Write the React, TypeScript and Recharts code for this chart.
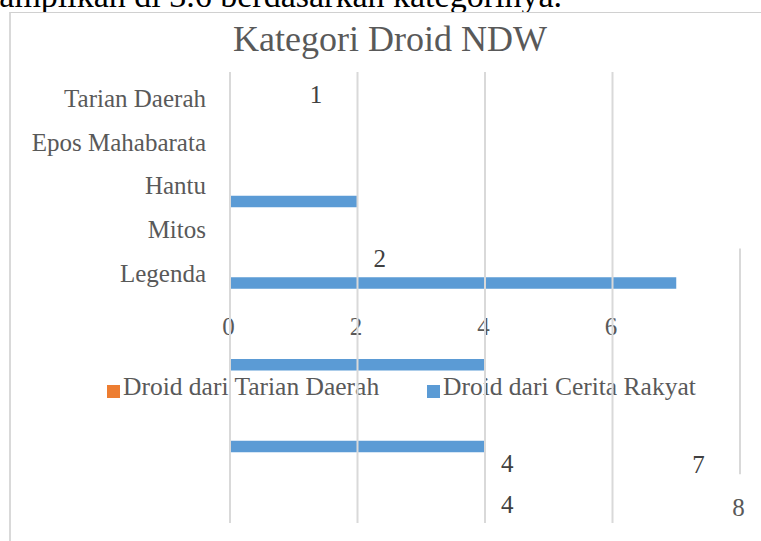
import React from 'react';
import { BarChart, Bar, XAxis, YAxis, CartesianGrid, Legend, LabelList, ReferenceLine } from 'recharts';

const W = 761;
const H = 541;
const FONT = "'Liberation Serif', 'DejaVu Serif', serif";

// Category axis labels (as printed on the left)
const categories = ['Tarian Daerah', 'Epos Mahabarata', 'Hantu', 'Mitos', 'Legenda'];
// Value axis ticks
const xTicks = [0, 2, 4, 6, 8];
const gridTicks = [0, 2, 4, 6];

// Series
const seriesNames = ['Droid dari Tarian Daerah', 'Droid dari Cerita Rakyat'];
const seriesColors = ['#ED7D31', '#5B9BD5'];

// Bars as they appear in the picture
const barRows = ['Hantu', 'Legenda', 'Mitos', 'Epos Mahabarata'];
const tarianDaerah = [0, 0, 0, 0];
const ceritaRakyat = [2, 7, 4, 4];

// Data labels as they appear in the picture (rows of a 21-row label grid)
const labelRowCount = 21;
const labelRowsA = [0, 8, 18, 20];
const labelValuesA = [1, 2, 4, 4];
const labelRowsB = [18];
const labelValuesB = [7];

const categoryData = categories.map((name) => ({ name }));
const barData = barRows.map((name, i) => ({ name, tarian: tarianDaerah[i], cerita: ceritaRakyat[i] }));
const labelData = Array.from({ length: labelRowCount }, (_, i) => {
  const ia = labelRowsA.indexOf(i);
  const ib = labelRowsB.indexOf(i);
  return { row: i, a: ia >= 0 ? labelValuesA[ia] : null, b: ib >= 0 ? labelValuesB[ib] : null };
});

const XTick = (props: any) => {
  const { x, payload } = props;
  const last = payload.value === 8;
  return (
    <text x={x - 1.5} y={last ? 507 : 326.5} dy="0.355em" textAnchor="middle" fill="#595959" fontSize={25} fontFamily={FONT}>
      {payload.value}
    </text>
  );
};

const renderLegend = (props: any) => {
  const payload = [...(props.payload || [])].sort(
    (p: any, q: any) => seriesNames.indexOf(p.value) - seriesNames.indexOf(q.value)
  );
  const lefts = [107, 427];
  return (
    <div style={{ position: 'relative', width: W, height: 30 }}>
      {payload.map((p: any, i: number) => (
        <div
          key={i}
          style={{
            position: 'absolute',
            left: lefts[i],
            top: 0,
            whiteSpace: 'nowrap',
            fontFamily: FONT,
            fontSize: 25.5,
            lineHeight: '25px',
            color: '#595959',
          }}
        >
          <span style={{ display: 'inline-block', width: 13, height: 13, background: p.color, marginRight: 3, verticalAlign: '-3px' }} />
          {p.value}
        </div>
      ))}
    </div>
  );
};

const layer: React.CSSProperties = { position: 'absolute', left: 0, top: 0 };

export default function App() {
  return (
    <div style={{ position: 'fixed', left: 0, top: 0, width: W, height: H, overflow: 'hidden', background: '#fff' }}>
      {/* clipped line of document text above the chart */}
      <svg width={W} height={12} style={layer}>
        <text x={562} y={7} textAnchor="end" fontSize={34} fontFamily={FONT} fill="#000">
          ditampilkan di 3.6 berdasarkan kategorinya.
        </text>
      </svg>
      {/* chart frame */}
      <div style={{ position: 'absolute', left: 9, top: 12, width: 800, height: 600, borderLeft: '2px solid #D9D9D9', borderTop: '1px solid #D0D0D0' }} />
      {/* title */}
      <svg width={W} height={70} style={layer}>
        <text x={390} y={51} textAnchor="middle" fontSize={36} fontFamily={FONT} fill="#595959">
          Kategori Droid NDW
        </text>
      </svg>

      {/* layer 1: category axis */}
      <div style={layer}>
        <BarChart width={W} height={H} layout="vertical" data={categoryData} margin={{ top: 72, right: 21, bottom: 18, left: 0 }}>
          <XAxis type="number" domain={[0, 8]} hide />
          <YAxis
            type="category"
            dataKey="name"
            width={230}
            interval={0}
            axisLine={false}
            tickLine={false}
            tickSize={0}
            tickMargin={24}
            padding={{ top: 4, bottom: 228 }}
            tick={{ fill: '#595959', fontSize: 25, fontFamily: FONT }}
          />
          <Bar dataKey="none" fill="none" legendType="none" isAnimationActive={false} />
        </BarChart>
      </div>

      {/* layer 2: bars, value axis labels and legend */}
      <div style={layer}>
        <BarChart width={W} height={H} layout="vertical" data={barData} barGap={0} margin={{ top: 72, right: 21, bottom: 0, left: 230 }}>
          <XAxis type="number" domain={[0, 8]} ticks={xTicks} interval={0} height={18} axisLine={false} tickLine={false} tick={<XTick />} />
          <YAxis type="category" dataKey="name" hide padding={{ top: 83.2, bottom: 41.2 }} />
          <Bar dataKey="tarian" name={seriesNames[0]} fill={seriesColors[0]} barSize={11.5} isAnimationActive={false} />
          <Bar dataKey="cerita" name={seriesNames[1]} fill={seriesColors[1]} barSize={11.5} isAnimationActive={false} />
          <Legend
            layout="horizontal"
            verticalAlign="middle"
            align="center"
            content={renderLegend}
            wrapperStyle={{ left: 0, top: 374, width: W, height: 30 }}
          />
        </BarChart>
      </div>

      {/* layer 3: data labels and gridlines (on top) */}
      <div style={layer}>
        <BarChart width={W} height={H} layout="vertical" data={labelData} barGap={0} margin={{ top: 72, right: 21, bottom: 18, left: 230 }}>
          <XAxis type="number" domain={[0, 8]} ticks={gridTicks} hide />
          <YAxis type="category" dataKey="row" hide padding={{ top: 12.3, bottom: 7.7 }} />
          <CartesianGrid horizontal={false} verticalValues={gridTicks} stroke="#D9D9D9" strokeWidth={2} />
          <Bar dataKey="a" fill="none" barSize={1} isAnimationActive={false}>
            <LabelList dataKey="a" position="right" offset={16} fill="#404040" fontSize={25} fontFamily={FONT} />
          </Bar>
          <Bar dataKey="b" fill="none" barSize={1} isAnimationActive={false}>
            <LabelList dataKey="b" position="right" offset={16} fill="#404040" fontSize={25} fontFamily={FONT} />
          </Bar>
          <ReferenceLine segment={[{ x: 8, y: 8 }, { x: 8, y: 19 }]} position="start" stroke="#D9D9D9" strokeWidth={2} ifOverflow="visible" />
        </BarChart>
      </div>
    </div>
  );
}
